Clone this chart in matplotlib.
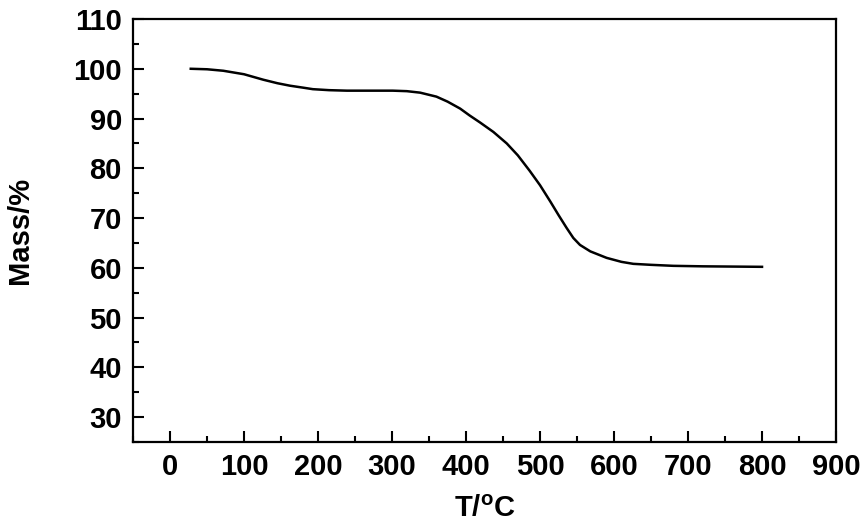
import matplotlib
matplotlib.use("Agg")
import matplotlib.pyplot as plt
from matplotlib.ticker import MultipleLocator

# TGA curve
temp = [28, 50, 72, 100, 126, 145, 162, 180, 193, 215, 239, 270, 301, 320, 338,
        360, 375, 392, 405, 419, 437, 455, 470, 486, 500, 514, 525, 536, 545,
        554, 568, 590, 610, 626, 650, 680, 720, 760, 800]
mass = [100.0, 99.9, 99.6, 98.9, 97.8, 97.1, 96.6, 96.2, 95.9, 95.7, 95.6, 95.6,
        95.6, 95.5, 95.2, 94.4, 93.4, 92.0, 90.6, 89.2, 87.3, 85.0, 82.6, 79.5,
        76.6, 73.3, 70.6, 68.0, 66.0, 64.6, 63.3, 62.0, 61.2, 60.8, 60.6, 60.4,
        60.3, 60.25, 60.2]

x_ticks = [0, 100, 200, 300, 400, 500, 600, 700, 800, 900]
y_ticks = [30, 40, 50, 60, 70, 80, 90, 100, 110]

plt.rcParams['font.family'] = ['Liberation Sans', 'DejaVu Sans']
plt.rcParams['font.weight'] = 'bold'
plt.rcParams['mathtext.fontset'] = 'custom'
plt.rcParams['mathtext.rm'] = 'Liberation Sans:bold'
plt.rcParams['mathtext.bf'] = 'Liberation Sans:bold'

fig = plt.figure(figsize=(8.65, 5.28), dpi=100)
ax = fig.add_axes([0.1538, 0.1629, 0.8127, 0.8011])

ax.plot(temp, mass, color='black', linewidth=1.8)

ax.set_xlim(-50, 900)
ax.set_ylim(25, 110)
ax.set_xticks(x_ticks)
ax.set_yticks(y_ticks)
ax.xaxis.set_minor_locator(MultipleLocator(50))
ax.yaxis.set_minor_locator(MultipleLocator(5))

ax.tick_params(which='both', direction='in', top=False, right=False,
               width=1.5, labelsize=21, pad=8)
ax.tick_params(which='major', length=8)
ax.tick_params(which='minor', length=4)
for lbl in ax.get_xticklabels() + ax.get_yticklabels():
    lbl.set_fontweight('bold')

for sp in ax.spines.values():
    sp.set_linewidth(1.6)

ax.set_xlabel('T/$^{\\mathrm{o}}$C', fontsize=21, fontweight='bold', labelpad=10)
ax.set_ylabel('Mass/%', fontsize=21, fontweight='bold', labelpad=28)

fig.savefig('out.png', dpi=100)
